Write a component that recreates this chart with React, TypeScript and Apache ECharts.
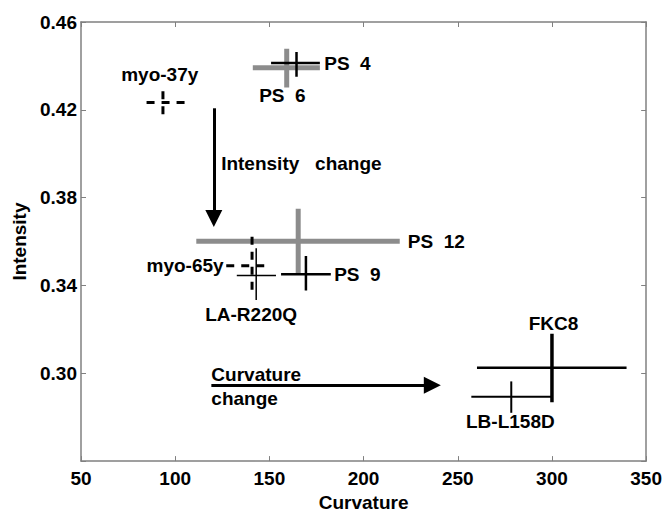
import React, { useEffect, useRef } from "react";
import * as echarts from "echarts";

// Error-bar crosses (centre, horizontal extent, vertical extent)
const crossNames = ["PS 6", "PS 4", "myo-37y", "PS 12", "PS 9", "myo-65y", "LA-R220Q", "FKC8", "LB-L158D"];
const centerX = [159.2, 164.4, 93.5, 165.3, 169.4, 140.8, 143.0, 300.0, 278.4];
const centerY = [0.4392, 0.4413, 0.4233, 0.3601, 0.3451, 0.349, 0.3445, 0.3025, 0.2893];
const xLow = [141.2, 150.9, 84.8, 111.2, 156.2, 127.1, 132.7, 260.2, 257.2];
const xHigh = [176.8, 176.8, 105.0, 219.2, 182.6, 148.9, 153.5, 339.6, 299.9];
const yLow = [0.4302, 0.4351, 0.418, 0.3448, 0.3377, 0.3381, 0.3334, 0.2868, 0.282];
const yHigh = [0.4478, 0.4463, 0.4296, 0.3749, 0.3534, 0.3622, 0.3569, 0.318, 0.2963];

// Annotation texts and their anchor points (data coordinates)
const labelTexts = ["myo-37y", "PS  4", "PS  6", "Intensity   change", "PS  12", "PS  9", "myo-65y", "LA-R220Q", "FKC8", "LB-L158D", "Curvature", "change"];
const labelX = [91.8, 179.1, 156.9, 124.4, 223.5, 184.4, 125.7, 140.3, 300.8, 277.9, 119.2, 119.2];
const labelY = [0.4363, 0.4413, 0.4265, 0.3954, 0.3601, 0.3451, 0.3493, 0.327, 0.3225, 0.2779, 0.2994, 0.2886];
const labelAlign = ["center", "left", "center", "left", "left", "left", "right", "center", "center", "center", "left", "left"];

// Arrows: [x1, y1, x2, y2]
const arrowIntensity = [120.5, 0.4207, 120.5, 0.3705];
const arrowCurvature = [119.2, 0.2945, 236.5, 0.2945];

// Axes
const xTicks = [50, 100, 150, 200, 250, 300, 350];
const yTicks = [0.26, 0.3, 0.34, 0.38, 0.42, 0.46];

const GRAY = "#8c8c8c";
const crossStyle: Record<string, { color: string; w: number; wv?: number; dashed?: boolean }> = {
  "PS 6": { color: GRAY, w: 5 },
  "PS 4": { color: "#000", w: 2.5 },
  "myo-37y": { color: "#000", w: 3, dashed: true },
  "PS 12": { color: GRAY, w: 5 },
  "PS 9": { color: "#000", w: 2.5 },
  "myo-65y": { color: "#000", w: 3, dashed: true },
  "LA-R220Q": { color: "#000", w: 1.5 },
  "FKC8": { color: "#000", w: 2.5, wv: 3.5 },
  "LB-L158D": { color: "#000", w: 2 },
};

const FONT = "'Liberation Sans', Arial, Helvetica, sans-serif";

export default function App() {
  const ref = useRef<HTMLDivElement>(null);
  useEffect(() => {
    if (!ref.current) return;
    const chart = echarts.init(ref.current, undefined, { renderer: "svg" });
    const series: any[] = [];
    crossNames.forEach((n, i) => {
      const st = crossStyle[n];
      const ls = (w: number) => ({
        color: st.color,
        width: w,
        type: st.dashed ? [8, 7] : "solid",
        cap: "butt",
      });
      series.push({
        type: "line",
        name: n + "-h",
        data: [[xLow[i], centerY[i]], [xHigh[i], centerY[i]]],
        symbol: "none",
        lineStyle: ls(st.w),
        silent: true,
        z: st.color === GRAY ? 2 : 3,
      });
      series.push({
        type: "line",
        name: n + "-v",
        data: [[centerX[i], yLow[i]], [centerX[i], yHigh[i]]],
        symbol: "none",
        lineStyle: ls(st.wv ?? st.w),
        silent: true,
        z: st.color === GRAY ? 2 : 3,
      });
    });
    series.push({
      type: "scatter",
      symbolSize: 0,
      silent: true,
      z: 5,
      itemStyle: { color: "#000", opacity: 1 },
      data: labelTexts.map((t, i) => ({
        value: [labelX[i], labelY[i]],
        label: {
          show: true,
          position: "inside",
          align: labelAlign[i],
          verticalAlign: "middle",
          formatter: t,
          color: "#000",
          textBorderWidth: 0,
          fontFamily: FONT,
          fontWeight: "bold",
          fontSize: 19,
        },
      })),
      markLine: {
        silent: true,
        symbol: ["none", "triangle"],
        symbolSize: [17, 17],
        label: { show: false },
        lineStyle: { color: "#000", width: 3, type: "solid", opacity: 1 },
        itemStyle: { color: "#000", opacity: 1 },
        data: [
          [{ coord: [arrowIntensity[0], arrowIntensity[1]] }, { coord: [arrowIntensity[2], arrowIntensity[3]] }],
          [{ coord: [arrowCurvature[0], arrowCurvature[1]] }, { coord: [arrowCurvature[2], arrowCurvature[3]] }],
        ],
      },
    });

    const axisLine = { show: true, onZero: false, lineStyle: { color: "#808080", width: 1.5 } };
    const axisTick = { show: true, inside: true, length: 5, lineStyle: { color: "#808080", width: 1 } };
    const labelStyle = { color: "#000", fontFamily: FONT, fontWeight: "bold", fontSize: 19 };
    const xMin = xTicks[0], xMax = xTicks[xTicks.length - 1];
    const yMin = yTicks[0], yMax = yTicks[yTicks.length - 1];

    chart.setOption({
      animation: false,
      backgroundColor: "#fff",
      grid: { left: 81, right: 17, top: 22, bottom: 47, containLabel: false },
      xAxis: [
        {
          type: "value",
          min: xMin,
          max: xMax,
          interval: 50,
          position: "bottom",
          name: "Curvature",
          nameLocation: "middle",
          nameGap: 28,
          nameTextStyle: labelStyle,
          axisLine,
          axisTick,
          splitLine: { show: false },
          axisLabel: { ...labelStyle, margin: 8, formatter: (v: number) => String(Math.round(v)) },
        },
        {
          type: "value",
          min: xMin,
          max: xMax,
          interval: 50,
          position: "top",
          axisLine,
          axisTick,
          splitLine: { show: false },
          axisLabel: { show: false },
        },
      ],
      yAxis: [
        {
          type: "value",
          min: yMin,
          max: yMax,
          interval: 0.04,
          position: "left",
          name: "Intensity",
          nameLocation: "middle",
          nameGap: 50,
          nameRotate: 90,
          nameTextStyle: labelStyle,
          axisLine,
          axisTick,
          splitLine: { show: false },
          axisLabel: {
            ...labelStyle,
            margin: 4,
            formatter: (v: number) => (v < 0.27 ? "" : v.toFixed(2)),
          },
        },
        {
          type: "value",
          min: yMin,
          max: yMax,
          interval: 0.04,
          position: "right",
          axisLine,
          axisTick,
          splitLine: { show: false },
          axisLabel: { show: false },
        },
      ],
      series,
    });
    return () => chart.dispose();
  }, []);
  return <div ref={ref} style={{ width: 665, height: 517, position: "absolute", left: 0, top: 0 }} />;
}
